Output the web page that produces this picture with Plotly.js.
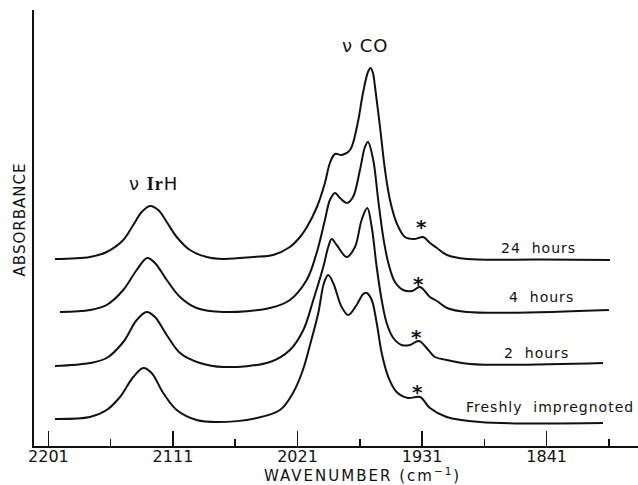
<!DOCTYPE html>
<html>
<head>
<meta charset="utf-8">
<script src="https://cdn.plot.ly/plotly-3.0.1.min.js"></script>
<style>
  html, body { margin: 0; padding: 0; background: #fff; }
  #chart { width: 638px; height: 485px; }
  .annotation-text { letter-spacing: 1px; }
</style>
</head>
<body>
<div id="chart"></div>
<script>
// Wavenumber (cm-1) and absorbance (arbitrary, offset)
const wn24 = [2196.2,2171.0,2158.9,2146.9,2139.7,2133.6,2127.6,2121.6,2115.5,2108.3,2098.7,2086.6,2074.6,2053.0,2038.7,2026.5,2019.2,2014.2,2007.0,2001.2,1997.6,1993.9,1988.9,1983.1,1978.1,1973.7,1970.1,1968.2,1966.5,1965.0,1961.4,1957.8,1954.2,1949.4,1943.4,1936.2,1930.2,1925.3,1920.3,1913.0,1898.6,1845.9,1795.3];
const ab24 = [1.87,1.89,1.94,2.06,2.21,2.34,2.40,2.36,2.24,2.09,1.96,1.89,1.87,1.89,1.91,1.99,2.09,2.19,2.39,2.63,2.83,2.92,2.91,2.96,3.19,3.53,3.74,3.78,3.73,3.59,3.19,2.76,2.46,2.23,2.09,2.07,2.09,2.03,1.98,1.91,1.87,1.865,1.86];

const wn4 = [2192.6,2171.0,2158.9,2146.9,2137.2,2129.6,2124.0,2115.5,2105.9,2093.9,2074.6,2040.9,2026.5,2014.4,2007.2,2001.2,1997.6,1993.9,1990.3,1985.3,1980.9,1975.9,1972.3,1970.1,1966.3,1962.7,1959.1,1955.4,1950.6,1944.6,1938.3,1932.5,1925.3,1920.3,1913.0,1898.6,1796.0];
const ab4 = [1.34,1.36,1.41,1.56,1.76,1.88,1.83,1.66,1.49,1.38,1.34,1.38,1.46,1.66,1.93,2.26,2.46,2.53,2.48,2.43,2.49,2.76,2.99,3.04,2.86,2.46,2.09,1.83,1.64,1.56,1.55,1.59,1.49,1.45,1.38,1.34,1.36];

const wn2 = [2196.2,2171.0,2158.9,2146.9,2137.2,2130.0,2124.0,2115.5,2105.9,2091.5,2074.6,2040.9,2026.5,2016.8,2009.6,2002.4,1998.8,1996.3,1992.7,1985.5,1979.5,1974.7,1970.6,1967.4,1963.8,1960.2,1956.6,1951.8,1945.8,1939.8,1933.3,1926.5,1921.7,1913.3,1896.4,1800.3];
const ab2 = [0.80,0.83,0.88,1.04,1.26,1.34,1.29,1.11,0.93,0.83,0.79,0.84,0.96,1.16,1.46,1.79,1.99,2.07,2.01,1.89,1.99,2.26,2.38,2.19,1.79,1.46,1.23,1.08,1.01,1.01,1.05,0.96,0.89,0.86,0.82,0.83];

const wnFresh = [2196.2,2171.0,2158.9,2149.3,2139.7,2132.4,2126.4,2118.0,2108.3,2093.9,2079.4,2050.5,2033.7,2024.3,2017.1,2012.0,2006.0,2001.9,1998.8,1995.2,1989.1,1984.3,1978.3,1973.5,1971.0,1967.4,1963.8,1960.2,1955.4,1949.4,1941.2,1932.5,1925.3,1913.3,1889.2,1800.3];
const abFresh = [0.27,0.29,0.36,0.49,0.69,0.78,0.73,0.53,0.36,0.26,0.24,0.28,0.36,0.53,0.76,1.01,1.33,1.63,1.71,1.63,1.39,1.31,1.41,1.52,1.53,1.46,1.23,0.93,0.69,0.54,0.48,0.49,0.38,0.29,0.24,0.23];

const seriesNames = ["24 hours", "4 hours", "2 hours", "Freshly impregnoted"];
const tickVals = [2201, 2111, 2021, 1931, 1841];
const tickText = ["2201", "2111", "2021", "1931", "1841"];

const FONT = "DejaVu Sans, Liberation Sans, sans-serif";
const INK = "#111";

const series = [[wn24, ab24], [wn4, ab4], [wn2, ab2], [wnFresh, abFresh]];
const traces = series.map((s, i) => ({
  x: s[0], y: s[1], name: seriesNames[i],
  type: "scatter", mode: "lines",
  line: { color: INK, width: 2, shape: "spline", smoothing: 1.0 },
  hoverinfo: "skip"
}));

// label placement (layout only)
const labelPos = [[1846.6, 1.98], [1844.4, 1.49], [1848.0, 0.93], [1838.6, 0.39]];
const starPos = [[1931.3, 2.23], [1933.8, 1.66], [1934.9, 1.13], [1934.3, 0.58]];

const annotations = [];
seriesNames.forEach((n, i) => {
  annotations.push({
    x: labelPos[i][0], y: labelPos[i][1], xref: "x", yref: "y",
    text: n.replace(" ", "\u00a0\u00a0"), showarrow: false,
    xanchor: "center", yanchor: "middle",
    font: { family: FONT, size: 14, color: INK }
  });
  annotations.push({
    x: starPos[i][0], y: starPos[i][1], xref: "x", yref: "y",
    text: "<b>*</b>", showarrow: false, xanchor: "center", yanchor: "middle",
    yshift: -4,
    font: { family: FONT, size: 20, color: INK }
  });
});
annotations.push({
  x: 1971.6, y: 4.01, xref: "x", yref: "y", showarrow: false,
  text: "ν\u00a0CO", font: { family: FONT, size: 18, color: INK },
  xanchor: "center", yanchor: "middle"
});
annotations.push({
  x: 2125.1, y: 2.63, xref: "x", yref: "y", showarrow: false,
  text: "ν\u00a0<span style=\"font-family:'Liberation Serif', serif\"><b>Ir</b></span>H",
  font: { family: FONT, size: 18, color: INK },
  xanchor: "center", yanchor: "middle"
});
annotations.push({
  x: 0.544, y: -0.066, xref: "paper", yref: "paper", showarrow: false,
  text: "<span style=\"letter-spacing:2px\">WAVENUMBER (cm<sup>−1</sup>)</span>",
  font: { family: FONT, size: 15, color: INK },
  xanchor: "center", yanchor: "middle"
});
annotations.push({
  x: -0.023, y: 0.52, xref: "paper", yref: "paper", showarrow: false,
  text: "ABSORBANCE", textangle: -90, font: { family: FONT, size: 15, color: INK },
  xanchor: "center", yanchor: "middle"
});

const layout = {
  width: 638, height: 485,
  margin: { l: 34, r: 0, t: 10, b: 39, pad: 0 },
  paper_bgcolor: "#fff", plot_bgcolor: "#fff",
  showlegend: false,
  font: { family: FONT, color: INK },
  xaxis: {
    range: [2211.4, 1775.0],
    tickmode: "array", tickvals: tickVals, ticktext: tickText,
    ticks: "inside", ticklen: 15, tickwidth: 1.5, tickcolor: INK,
    ticklabelstandoff: -5,
    minor: { tick0: 2201, dtick: 45, ticks: "inside", ticklen: 7, tickwidth: 1.5, tickcolor: INK, showgrid: false },
    showline: true, linecolor: INK, linewidth: 2,
    showgrid: false, zeroline: false,
    tickfont: { family: FONT, size: 16, color: INK }
  },
  yaxis: {
    range: [0, 4.36],
    showline: true, linecolor: INK, linewidth: 2,
    showticklabels: false, ticks: "", showgrid: false, zeroline: false
  },
  annotations: annotations
};

Plotly.newPlot("chart", traces, layout, { staticPlot: true, displayModeBar: false });
</script>
</body>
</html>
